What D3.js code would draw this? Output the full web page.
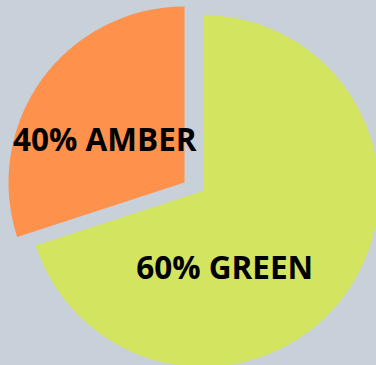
<!DOCTYPE html>
<html>
<head>
<meta charset="utf-8">
<script src="https://cdn.jsdelivr.net/npm/d3@7"></script>
<style>
  html, body { margin: 0; padding: 0; background: #c8d0da; }
  svg { display: block; }
  .label { font-family: "Open Sans", "Noto Sans", sans-serif; font-weight: bold; font-size: 31.5px; fill: #000; }
</style>
</head>
<body>
<div class="pie"></div>
<script>
// Slice data (slice angles), and the printed labels
var categories = ["GREEN", "AMBER"];
var shares = [70, 30];
var labels = ["60% GREEN", "40% AMBER"];
var colours = ["#d3e461", "#fe914c"];

// Dimensions and settings
var width = 376;
var height = 365;
var radius = 176;
var cx = 203, cy = 191;

// exploded slice offset and label nudges
var explode = {AMBER: [-18.5, -8.5], GREEN: [0, 0]};
var labelShift = {AMBER: [-8.5, 9.5], GREEN: [-49.5, 25.5]};

var svg = d3.select(".pie")
    .append("svg")
    .attr("width", width)
    .attr("height", height);

var g = svg.append("g")
    .attr("transform", "translate(" + cx + "," + cy + ")");

var data = categories.map(function(c, i) {
    return {name: c, value: shares[i], label: labels[i], colour: colours[i]};
});

var pie = d3.pie()
    .sort(null)
    .value(function(d) { return d.value; });

var arc = d3.arc()
    .innerRadius(0)
    .outerRadius(radius);

var labelArc = d3.arc()
    .innerRadius(radius * 0.5)
    .outerRadius(radius * 0.5);

var slice = g.selectAll(".slice")
    .data(pie(data))
    .enter().append("g")
        .attr("class", "slice")
        .attr("transform", function(d) {
            var o = explode[d.data.name];
            return "translate(" + o[0] + "," + o[1] + ")";
        });

slice.append("path")
    .attr("d", arc)
    .attr("fill", function(d) { return d.data.colour; });

slice.append("text")
    .attr("class", "label")
    .attr("text-anchor", "middle")
    .attr("dy", "0.35em")
    .attr("transform", function(d) {
        var c = labelArc.centroid(d);
        var s = labelShift[d.data.name];
        return "translate(" + (c[0] + s[0]) + "," + (c[1] + s[1]) + ")";
    })
    .text(function(d) { return d.data.label; });
</script>
</body>
</html>
